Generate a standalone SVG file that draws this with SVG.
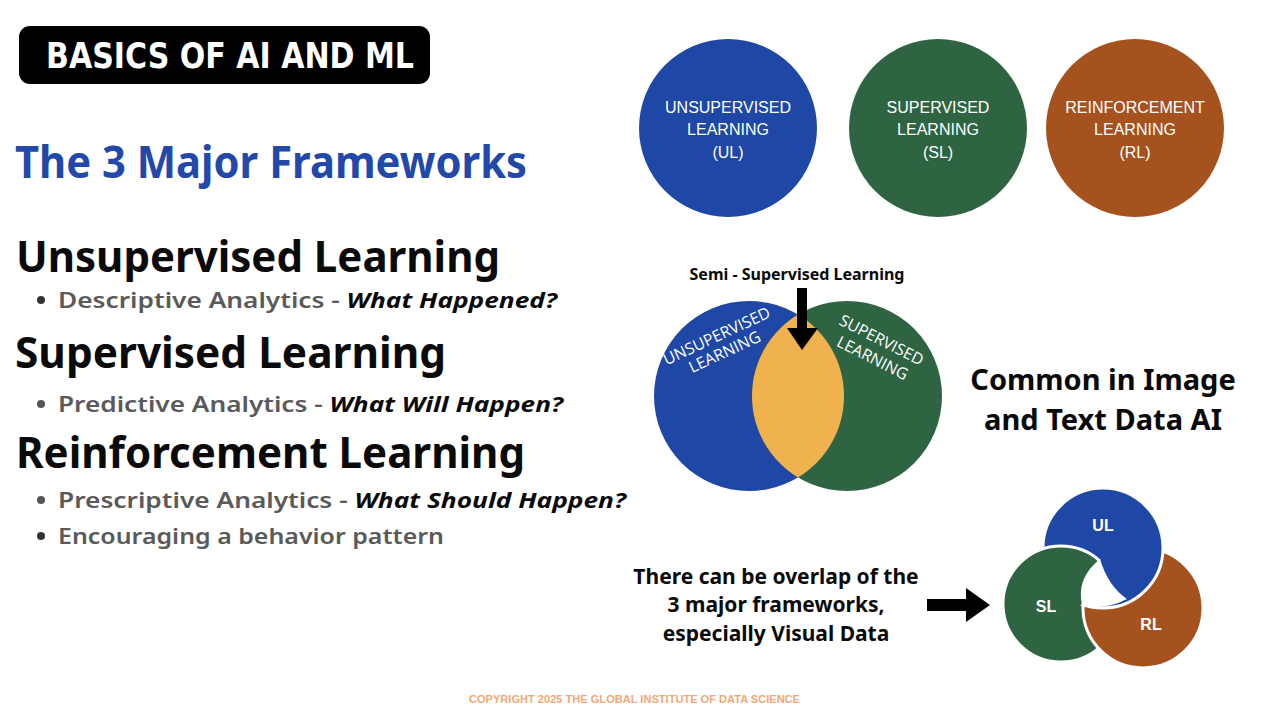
<svg xmlns="http://www.w3.org/2000/svg" width="1261" height="710" viewBox="0 0 1261 710">
<style>
  .h { font-family: "Noto Sans", "Open Sans", sans-serif; font-weight: 700; fill: #0a0a0a; }
  .b { font-family: "Noto Sans", "Open Sans", sans-serif; font-weight: 600; fill: #5a5a5a; font-size: 22px; }
  .q { fill: #0a0a0a; font-style: italic; font-weight: 700; }
  .ct { font-family: "Liberation Sans", Arial, sans-serif; fill: #ffffff; font-size: 16px; text-anchor: middle; }
  .vt { font-family: "Open Sans", "Liberation Sans", sans-serif; fill: #ffffff; font-size: 16px; text-anchor: middle; }
  .bk { font-family: "Noto Sans", "Open Sans", sans-serif; font-weight: 700; fill: #0a0a0a; text-anchor: middle; }
  .lg { font-family: "Liberation Sans", Arial, sans-serif; font-weight: 700; fill: #ffffff; font-size: 16px; text-anchor: middle; }
  .ul { fill: #1e47a6; }
  .sl { fill: #2e6442; }
  .rl { fill: #a5521f; }
</style>
<defs>
  <clipPath id="slTop"><polygon points="990,480 1101,480 1101,559 1081,605 990,605"/></clipPath>
</defs>
<rect width="1261" height="710" fill="#ffffff"/>

<g id="title">
  <rect x="19" y="26" width="411" height="58" rx="11" fill="#000000"/>
  <text x="46" y="68" font-family="DejaVu Sans Condensed, DejaVu Sans, sans-serif" font-weight="700" font-size="35" fill="#ffffff" textLength="368" lengthAdjust="spacingAndGlyphs">BASICS OF AI AND ML</text>
</g>

<g id="heading">
  <text x="15" y="178" font-family="Noto Sans, Open Sans, sans-serif" font-weight="700" font-size="44" fill="#2249a9" textLength="512" lengthAdjust="spacingAndGlyphs">The 3 Major Frameworks</text>
</g>

<g id="list">
  <text class="h" x="16" y="272" font-size="43" textLength="484" lengthAdjust="spacingAndGlyphs">Unsupervised Learning</text>
  <circle cx="41" cy="300" r="4" fill="#333333"/>
  <text class="b" x="58" y="308" textLength="499" lengthAdjust="spacingAndGlyphs">Descriptive Analytics - <tspan class="q">What Happened?</tspan></text>
  <text class="h" x="15" y="368" font-size="43" textLength="431" lengthAdjust="spacingAndGlyphs">Supervised Learning</text>
  <circle cx="41" cy="404" r="4" fill="#555555"/>
  <text class="b" x="58" y="412" textLength="505" lengthAdjust="spacingAndGlyphs">Predictive Analytics - <tspan class="q">What Will Happen?</tspan></text>
  <text class="h" x="16" y="468" font-size="43" textLength="509" lengthAdjust="spacingAndGlyphs">Reinforcement Learning</text>
  <circle cx="41" cy="500" r="4" fill="#555555"/>
  <text class="b" x="58" y="508" textLength="568" lengthAdjust="spacingAndGlyphs">Prescriptive Analytics - <tspan class="q">What Should Happen?</tspan></text>
  <circle cx="41" cy="536" r="4" fill="#333333"/>
  <text class="b" x="58" y="544" textLength="386" lengthAdjust="spacingAndGlyphs">Encouraging a behavior pattern</text>
</g>

<g id="node-ul">
  <circle class="ul" cx="728" cy="128" r="89"/>
  <text class="ct" x="728" y="113">UNSUPERVISED</text>
  <text class="ct" x="728" y="135">LEARNING</text>
  <text class="ct" x="728" y="158">(UL)</text>
</g>
<g id="node-sl">
  <circle class="sl" cx="938" cy="128" r="89"/>
  <text class="ct" x="938" y="113">SUPERVISED</text>
  <text class="ct" x="938" y="135">LEARNING</text>
  <text class="ct" x="938" y="158">(SL)</text>
</g>
<g id="node-rl">
  <circle class="rl" cx="1135" cy="128" r="89"/>
  <text class="ct" x="1135" y="113">REINFORCEMENT</text>
  <text class="ct" x="1135" y="135">LEARNING</text>
  <text class="ct" x="1135" y="158">(RL)</text>
</g>

<g id="venn">
  <circle class="ul" cx="749" cy="396" r="95"/>
  <circle class="sl" cx="847" cy="396" r="95"/>
  <path d="M798,314.6 A95,95 0 0 1 798,477.4 A95,95 0 0 1 798,314.6 Z" fill="#efb24f"/>
  <text class="vt" transform="translate(719,341) rotate(-25)">UNSUPERVISED</text>
  <text class="vt" transform="translate(727,357) rotate(-25)">LEARNING</text>
  <text class="vt" transform="translate(879,345) rotate(27)">SUPERVISED</text>
  <text class="vt" transform="translate(870,363) rotate(27)">LEARNING</text>
  <text class="bk" x="797" y="280" font-size="16">Semi - Supervised Learning</text>
</g>

<g id="common-note">
  <text class="bk" x="1103" y="390" font-size="29">Common in Image</text>
  <text class="bk" x="1103" y="430" font-size="29">and Text Data AI</text>
</g>

<g id="overlap-note">
  <text class="bk" x="776" y="584" font-size="21">There can be overlap of the</text>
  <text class="bk" x="776" y="612" font-size="21">3 major frameworks,</text>
  <text class="bk" x="776" y="641" font-size="21">especially Visual Data</text>
</g>

<g id="logo" stroke="#ffffff" stroke-width="3">
  <circle class="sl" cx="1061" cy="604" r="58"/>
  <circle class="rl" cx="1143" cy="608" r="60"/>
  <circle class="ul" cx="1103" cy="548" r="60"/>
  <circle class="sl" cx="1061" cy="604" r="58" clip-path="url(#slTop)"/>
  <path d="M1100,559 Q1076,578 1082,605 Q1104,611 1127,599 Q1108,586 1100,559 Z" fill="#ffffff" stroke="none"/>
  <text class="lg" x="1103" y="531" stroke="none">UL</text>
  <text class="lg" x="1046" y="612" stroke="none">SL</text>
  <text class="lg" x="1151" y="630" stroke="none">RL</text>
</g>

<g id="connectors" fill="#000000">
  <path d="M797,288 H807 V328 H818 L802,350 L787,328 H797 Z"/>
  <path d="M927,599 H966 V588 L990,605 L966,622 V611 H927 Z"/>
</g>

<g id="footer">
  <text x="634.5" y="703" text-anchor="middle" font-family="Liberation Sans, Arial, sans-serif" font-weight="700" font-size="11" fill="#f0a878" textLength="331" lengthAdjust="spacingAndGlyphs">COPYRIGHT 2025 THE GLOBAL INSTITUTE OF DATA SCIENCE</text>
</g>
</svg>
